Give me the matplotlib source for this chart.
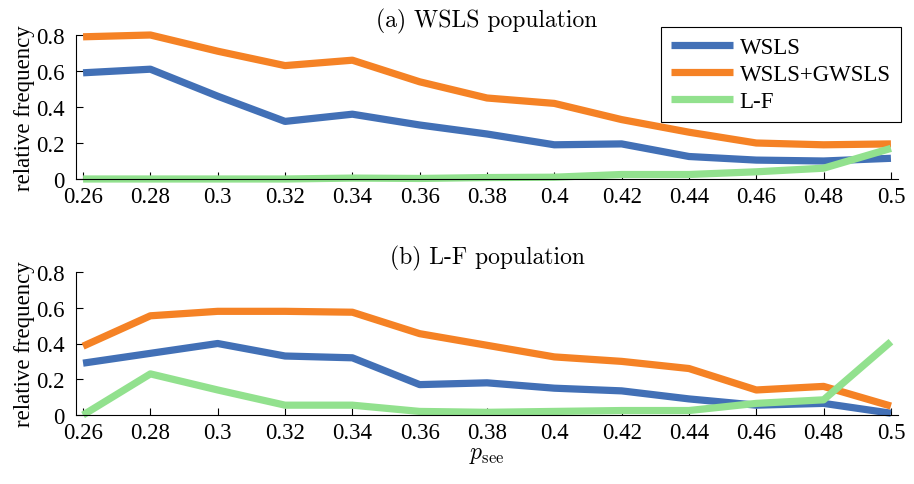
import numpy as np
import matplotlib
matplotlib.use("Agg")
import matplotlib.pyplot as plt

plt.rcParams['font.family'] = 'serif'
plt.rcParams['font.serif'] = ['Liberation Serif', 'DejaVu Serif']
plt.rcParams['mathtext.fontset'] = 'cm'

# p_see values (x axis)
p_see = [0.26, 0.28, 0.30, 0.32, 0.34, 0.36, 0.38, 0.40, 0.42, 0.44, 0.46, 0.48, 0.50]
xtick_labels = ['0.26', '0.28', '0.3', '0.32', '0.34', '0.36', '0.38', '0.4',
                '0.42', '0.44', '0.46', '0.48', '0.5']

# (a) WSLS population
a_wsls = [0.59, 0.61, 0.46, 0.32, 0.36, 0.30, 0.25, 0.19, 0.195, 0.125, 0.105, 0.10, 0.115]
a_wsls_gwsls = [0.79, 0.80, 0.71, 0.63, 0.66, 0.54, 0.45, 0.42, 0.33, 0.26, 0.20, 0.19, 0.195]
a_lf = [0.0, 0.0, 0.0, 0.0, 0.005, 0.003, 0.008, 0.01, 0.025, 0.025, 0.04, 0.06, 0.17]

# (b) L-F population
b_wsls = [0.29, 0.345, 0.40, 0.33, 0.32, 0.17, 0.18, 0.15, 0.135, 0.09, 0.055, 0.065, 0.01]
b_wsls_gwsls = [0.385, 0.555, 0.58, 0.58, 0.575, 0.455, 0.39, 0.325, 0.30, 0.26, 0.14, 0.16, 0.05]
b_lf = [0.0, 0.23, 0.14, 0.055, 0.055, 0.02, 0.015, 0.02, 0.025, 0.025, 0.065, 0.085, 0.41]

labels = ['WSLS', 'WSLS+GWSLS', 'L-F']
colors = ['#4270b6', '#f58225', '#92e18e']
LW = 5.2
FS = 16.5       # Times-like text (ticks, ylabel, legend)
TITLE_FS = 17   # Computer Modern titles

W, H = 914, 485
fig = plt.figure(figsize=(W / 100, H / 100), dpi=100)


def px_axes(x0, x1, y0, y1):
    # axes from pixel box (y measured from top)
    return fig.add_axes([x0 / W, 1 - y1 / H, (x1 - x0) / W, (y1 - y0) / H])


def style(ax, title):
    ax.set_xlim(0.2579, 0.5021)
    ax.set_ylim(0, 0.8)
    ax.set_xticks(p_see)
    ax.set_xticklabels(xtick_labels)
    ax.set_yticks([0, 0.2, 0.4, 0.6, 0.8])
    ax.set_yticklabels(['0', '0.2', '0.4', '0.6', '0.8'])
    ax.spines['top'].set_visible(False)
    ax.spines['right'].set_visible(False)
    ax.tick_params(direction='in', length=5, width=0.8, labelsize=FS)
    ax.tick_params(axis='x', pad=5)
    ax.tick_params(axis='y', pad=8)
    ax.set_ylabel('relative frequency', fontsize=FS, labelpad=1)
    ax.set_title(title, fontsize=TITLE_FS, pad=6, family='cmr10')


ax1 = px_axes(76, 898, 36, 180)
for vals, lab, col in zip([a_wsls, a_wsls_gwsls, a_lf], labels, colors):
    ax1.plot(p_see, vals, color=col, lw=LW, label=lab, solid_capstyle='butt', clip_on=False)
style(ax1, '(a) WSLS population')
leg = ax1.legend(loc='upper right', bbox_to_anchor=(901 / W, 1 - 28 / H),
                 bbox_transform=fig.transFigure, borderaxespad=0, fontsize=FS,
                 frameon=True, fancybox=False, edgecolor='black', framealpha=1,
                 handlelength=2.7, borderpad=0.45, labelspacing=0.25, handletextpad=0.3)
leg.get_frame().set_linewidth(0.8)

ax2 = px_axes(76, 898, 273, 416)
for vals, lab, col in zip([b_wsls, b_wsls_gwsls, b_lf], labels, colors):
    ax2.plot(p_see, vals, color=col, lw=LW, label=lab, solid_capstyle='butt', clip_on=False)
style(ax2, '(b) L-F population')
ax2.set_xlabel(r'$p_{\rm see}$', fontsize=17, labelpad=1)

fig.savefig('out.png', dpi=100)
